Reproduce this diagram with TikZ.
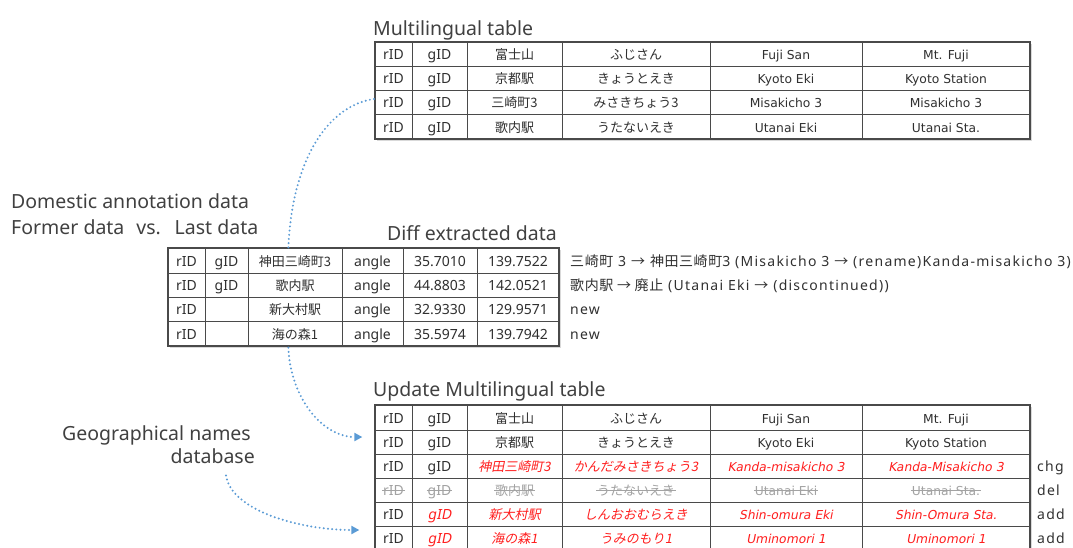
\documentclass[tikz,border=0pt]{standalone}
\usepackage{fontspec}
\setmainfont{Noto Sans}
\newfontfamily\jp{Noto Sans CJK JP}
\newfontfamily\jpsl{Noto Sans CJK JP}[FakeSlant=0.2]
\newfontfamily\verd{DejaVu Sans}
\newfontfamily\verdsl{DejaVu Sans}[FakeSlant=0.2]
\newfontfamily\latsl{Noto Sans}[FakeSlant=0.2]
\newfontfamily\notefont{Noto Sans}[LetterSpace=9]
\newfontfamily\notejp{Noto Sans CJK JP}[LetterSpace=4]
\usetikzlibrary{arrows.meta,shadows,calc}
\definecolor{txt}{HTML}{303030}
\definecolor{hd}{HTML}{404040}
\definecolor{gridc}{HTML}{4A4A4A}
\definecolor{flowblue}{HTML}{5B9BD5}
\definecolor{updc}{HTML}{FF1E1E}
\definecolor{delc}{HTML}{A3A3A3}
\tikzset{
  tablebox/.style={draw=gridc, line width=1.3pt, fill=white, inner sep=0pt,
    drop shadow={opacity=0.3, shadow xshift=2pt, shadow yshift=-2pt}},
  gridline/.style={draw=gridc, line width=0.8pt},
  cell/.style={inner xsep=1pt, inner ysep=0pt, text height=11pt, text depth=0pt,
    font=\fontsize{14}{16}\selectfont, text=txt},
  jpc/.style={cell, font=\jp\fontsize{13}{15}\selectfont},
  enc/.style={cell, font=\verd\fontsize{12.3}{15}\selectfont},
  chgid/.style={text=updc, font=\latsl\fontsize{14}{16}\selectfont},
  chgjp/.style={text=updc, font=\jpsl\fontsize{13}{15}\selectfont},
  chgen/.style={text=updc, font=\verdsl\fontsize{12.3}{15}\selectfont},
  struck/.style={text=delc, path picture={\draw[delc, line width=0.7pt]
      (path picture bounding box.west) -- (path picture bounding box.east);}},
  heading/.style={inner sep=0pt, text=hd, font=\fontsize{19.5}{22}\selectfont},
  note/.style={anchor=west, inner sep=0pt, text height=11pt, text depth=0pt,
    text=txt, font=\notefont\fontsize{14}{16}\selectfont},
  flow/.style={draw=flowblue, line width=2.2pt, line cap=round, dash pattern=on 0pt off 4.2pt},
  flowtip/.style={flow, -{Triangle[length=8pt, width=8pt]}},
}
\begin{document}
\begin{tikzpicture}[x=1pt,y=-1pt]
\useasboundingbox (0,0) rectangle (1073,547);
\clip (0,0) rectangle (1073,547);

% ---------- headings ----------
\node[heading, anchor=base west] (hmulti) at (373,35) {Multilingual table};
\node[heading, anchor=base west] (hdiff) at (387,240) {Diff extracted data};
\node[heading, anchor=base west] (hupd) at (373,396) {Update Multilingual table};
\node[heading, anchor=base west] (hdom1) at (11,208) {Domestic annotation data};
\node[heading, anchor=base west] (hdom2) at (11,234) {Former data\hspace{7pt} vs.\hspace{7pt} Last data};
\node[heading, anchor=base west] (geo1) at (62,440) {Geographical names};
\node[heading, anchor=base east] (geo2) at (255,463) {database};

% ---------- top table ----------
\node[tablebox, minimum width=655pt, minimum height=97pt] (mlt) at (702.5,90.5) {};
\foreach \x in {412,467,562,710,862} \draw[gridline] (\x,42) -- (\x,139);
\foreach \y in {66,90,114} \draw[gridline] (375,\y) -- (1030,\y);
\node[cell] (m-1-1) at (393.5,54) {rID};
\node[cell] (m-1-2) at (439.5,54) {gID};
\node[jpc] (m-1-3) at (514.5,54) {富士山};
\node[jpc] (m-1-4) at (636,54) {ふじさん};
\node[enc] (m-1-5) at (786,54) {Fuji San};
\node[enc] (m-1-6) at (946,54) {Mt. Fuji};
\node[cell] (m-2-1) at (393.5,78) {rID};
\node[cell] (m-2-2) at (439.5,78) {gID};
\node[jpc] (m-2-3) at (514.5,78) {京都駅};
\node[jpc] (m-2-4) at (636,78) {きょうとえき};
\node[enc] (m-2-5) at (786,78) {Kyoto Eki};
\node[enc] (m-2-6) at (946,78) {Kyoto Station};
\node[cell] (m-3-1) at (393.5,102) {rID};
\node[cell] (m-3-2) at (439.5,102) {gID};
\node[jpc] (m-3-3) at (514.5,102) {三崎町3};
\node[jpc] (m-3-4) at (636,102) {みさきちょう3};
\node[enc] (m-3-5) at (786,102) {Misakicho 3};
\node[enc] (m-3-6) at (946,102) {Misakicho 3};
\node[cell] (m-4-1) at (393.5,126.5) {rID};
\node[cell] (m-4-2) at (439.5,126.5) {gID};
\node[jpc] (m-4-3) at (514.5,126.5) {歌内駅};
\node[jpc] (m-4-4) at (636,126.5) {うたないえき};
\node[enc] (m-4-5) at (786,126.5) {Utanai Eki};
\node[enc] (m-4-6) at (946,126.5) {Utanai Sta.};

% ---------- diff table ----------
\node[tablebox, minimum width=391pt, minimum height=98pt] (diff) at (363.5,297) {};
\foreach \x in {205,248,342,403,477} \draw[gridline] (\x,248) -- (\x,346);
\foreach \y in {273,297,321} \draw[gridline] (168,\y) -- (559,\y);
\node[cell] (d-1-1) at (186.5,260.5) {rID};
\node[cell] (d-1-2) at (226.5,260.5) {gID};
\node[jpc] (d-1-3) at (295,260.5) {神田三崎町3};
\node[cell] (d-1-4) at (372.5,260.5) {angle};
\node[cell] (d-1-5) at (440,260.5) {35.7010};
\node[cell] (d-1-6) at (518,260.5) {139.7522};
\node[cell] (d-2-1) at (186.5,285) {rID};
\node[cell] (d-2-2) at (226.5,285) {gID};
\node[jpc] (d-2-3) at (295,285) {歌内駅};
\node[cell] (d-2-4) at (372.5,285) {angle};
\node[cell] (d-2-5) at (440,285) {44.8803};
\node[cell] (d-2-6) at (518,285) {142.0521};
\node[cell] (d-3-1) at (186.5,309) {rID};
\node[jpc] (d-3-3) at (295,309) {新大村駅};
\node[cell] (d-3-4) at (372.5,309) {angle};
\node[cell] (d-3-5) at (440,309) {32.9330};
\node[cell] (d-3-6) at (518,309) {129.9571};
\node[cell] (d-4-1) at (186.5,333.5) {rID};
\node[jpc] (d-4-3) at (295,333.5) {海の森1};
\node[cell] (d-4-4) at (372.5,333.5) {angle};
\node[cell] (d-4-5) at (440,333.5) {35.5974};
\node[cell] (d-4-6) at (518,333.5) {139.7942};

\node[note] (n1) at (570,260.5) {{\notejp 三崎町} 3 {\notejp →} {\notejp 神田三崎町}3 (Misakicho 3 {\notejp →} (rename)Kanda-misakicho 3)};
\node[note] (n2) at (570,285) {{\notejp 歌内駅 → 廃止} (Utanai Eki {\notejp →} (discontinued))};
\node[note] (n3) at (570,309) {new};
\node[note] (n4) at (570,333.5) {new};

% ---------- updated table ----------
\node[tablebox, minimum width=655pt, minimum height=145pt] (umt) at (702.5,477.5) {};
\foreach \x in {412,467,562,710,862} \draw[gridline] (\x,405) -- (\x,550);
\foreach \y in {430,454,478,502,526} \draw[gridline] (375,\y) -- (1030,\y);
\node[cell] (u-1-1) at (393.5,417.5) {rID};
\node[cell] (u-1-2) at (439.5,417.5) {gID};
\node[jpc] (u-1-3) at (514.5,417.5) {富士山};
\node[jpc] (u-1-4) at (636,417.5) {ふじさん};
\node[enc] (u-1-5) at (786,417.5) {Fuji San};
\node[enc] (u-1-6) at (946,417.5) {Mt. Fuji};
\node[cell] (u-2-1) at (393.5,442) {rID};
\node[cell] (u-2-2) at (439.5,442) {gID};
\node[jpc] (u-2-3) at (514.5,442) {京都駅};
\node[jpc] (u-2-4) at (636,442) {きょうとえき};
\node[enc] (u-2-5) at (786,442) {Kyoto Eki};
\node[enc] (u-2-6) at (946,442) {Kyoto Station};
\node[cell] (u-3-1) at (393.5,466) {rID};
\node[cell] (u-3-2) at (439.5,466) {gID};
\node[jpc, chgjp] (u-3-3) at (514.5,466) {神田三崎町3};
\node[jpc, chgjp] (u-3-4) at (636,466) {かんだみさきちょう3};
\node[enc, chgen] (u-3-5) at (786,466) {Kanda-misakicho 3};
\node[enc, chgen] (u-3-6) at (946,466) {Kanda-Misakicho 3};
\node[cell, struck] (u-4-1) at (393.5,490) {rID};
\node[cell, struck] (u-4-2) at (439.5,490) {gID};
\node[jpc, struck] (u-4-3) at (514.5,490) {歌内駅};
\node[jpc, struck] (u-4-4) at (636,490) {うたないえき};
\node[enc, struck] (u-4-5) at (786,490) {Utanai Eki};
\node[enc, struck] (u-4-6) at (946,490) {Utanai Sta.};
\node[cell] (u-5-1) at (393.5,514) {rID};
\node[cell, chgid] (u-5-2) at (439.5,514) {gID};
\node[jpc, chgjp] (u-5-3) at (514.5,514) {新大村駅};
\node[jpc, chgjp] (u-5-4) at (636,514) {しんおおむらえき};
\node[enc, chgen] (u-5-5) at (786,514) {Shin-omura Eki};
\node[enc, chgen] (u-5-6) at (946,514) {Shin-Omura Sta.};
\node[cell] (u-6-1) at (393.5,538) {rID};
\node[cell, chgid] (u-6-2) at (439.5,538) {gID};
\node[jpc, chgjp] (u-6-3) at (514.5,538) {海の森1};
\node[jpc, chgjp] (u-6-4) at (636,538) {うみのもり1};
\node[enc, chgen] (u-6-5) at (786,538) {Uminomori 1};
\node[enc, chgen] (u-6-6) at (946,538) {Uminomori 1};

\node[note] (s3) at (1037,466) {chg};
\node[note] (s4) at (1037,490) {del};
\node[note] (s5) at (1037,514) {add};
\node[note] (s6) at (1037,538) {add};

% ---------- connectors ----------
\draw[flow] ($(diff.north west)+(121,0)$) .. controls +(4,-90) and +(-45,6) .. ($(mlt.west)+(0,8.5)$);
\draw[flowtip] ($(diff.south west)+(121,1)$) .. controls +(2,50) and +(-40,0) .. ($(umt.west)+(-12,-40.5)$);
\draw[flowtip] ($(geo2.south east)+(-29,12)$) .. controls +(5,35) and +(-60,0) .. ($(umt.west)+(-15,52.5)$);
\end{tikzpicture}
\end{document}
